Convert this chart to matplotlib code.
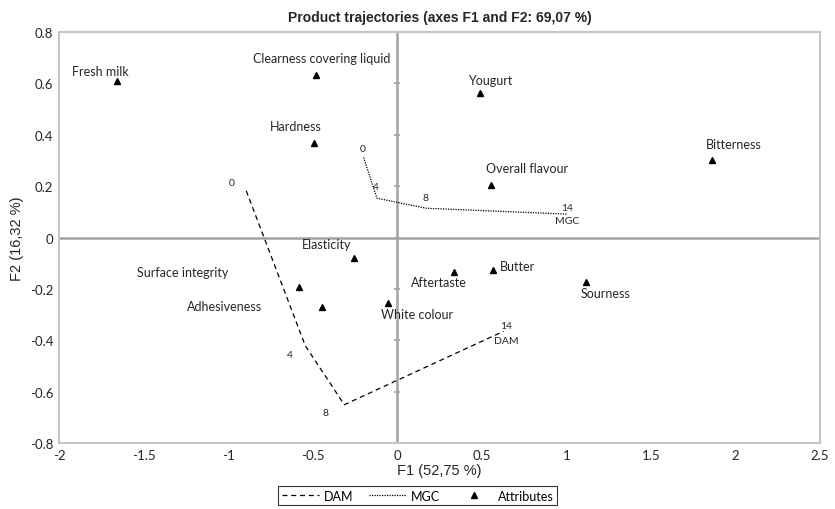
import numpy as np
import matplotlib
matplotlib.use("Agg")
from matplotlib import pyplot as plt

# attributes (F1, F2)
attributs = ["Fresh milk", "Clearness covering liquid", "Hardness", "Yougurt",
             "Overall flavour", "Bitterness", "Elasticity", "Surface integrity",
             "Adhesiveness", "White colour", "Aftertaste", "Butter", "Sourness"]
f1_attr = [-1.656, -0.479, -0.495, 0.487, 0.552, 1.861, -0.254, -0.578,
           -0.443, -0.055, 0.333, 0.564, 1.118]
f2_attr = [0.609, 0.633, 0.368, 0.561, 0.204, 0.300, -0.080, -0.191,
           -0.269, -0.256, -0.136, -0.127, -0.172]
# label positions of the attributes
lab_x = [-1.757, -0.445, -0.603, 0.550, 0.767, 1.989, -0.420, -1.270,
         -1.023, 0.115, 0.248, 0.605, 1.230]
lab_y = [0.649, 0.699, 0.435, 0.613, 0.271, 0.364, -0.025, -0.136,
         -0.265, -0.298, -0.172, -0.110, -0.216]
lab_ha = ["center"] * 11 + ["left", "center"]

# trajectories (days 0, 4, 8, 14)
jours = ["0", "4", "8", "14"]
dam_f1 = [-0.893, -0.544, -0.313, 0.629]
dam_f2 = [0.182, -0.421, -0.651, -0.365]
mgc_f1 = [-0.199, -0.120, 0.171, 1.003]
mgc_f2 = [0.312, 0.153, 0.114, 0.091]
dam_lab_x = [-0.977, -0.637, -0.426, 0.645]
dam_lab_y = [0.215, -0.457, -0.683, -0.343]
mgc_lab_x = [-0.205, -0.124, 0.166, 1.003]
mgc_lab_y = [0.345, 0.199, 0.154, 0.117]

xticks = [-2, -1.5, -1, -0.5, 0, 0.5, 1, 1.5, 2, 2.5]
yticks = [-0.8, -0.6, -0.4, -0.2, 0, 0.2, 0.4, 0.6, 0.8]

plt.rcParams['font.family'] = ['Liberation Sans', 'DejaVu Sans']
fnt_lab = ['Lato', 'DejaVu Sans']
txt = "#262626"

fig = plt.figure(figsize=(8.35, 5.1), dpi=100)
ax = fig.add_axes([0.0707, 0.1294, 0.9113, 0.8059])

gris = "#c6c6c6"
gris_fonce = "#a2a2a2"
ax.axvline(0, color=gris_fonce, lw=1.8, zorder=1)
ax.axhline(0, color=gris_fonce, lw=1.8, zorder=1)
ax.plot(np.zeros(len(yticks)), yticks, ls="none", marker="_", ms=5,
        mew=1.2, color=gris_fonce, zorder=1)

l1, = ax.plot(dam_f1, dam_f2, ls=(0, (4, 3)), color="black", lw=0.9, label="DAM")
l2, = ax.plot(mgc_f1, mgc_f2, ls=(0, (1, 1)), color="black", lw=0.9, label="MGC")
l3, = ax.plot(f1_attr, f2_attr, ls="none", marker="^", ms=5, color="black",
              label="Attributes")

for i in range(len(attributs)):
    ax.text(lab_x[i], lab_y[i], attributs[i], ha=lab_ha[i], va="center",
            fontsize=9, family=fnt_lab, color=txt)
for i in range(len(jours)):
    ax.text(dam_lab_x[i], dam_lab_y[i], jours[i], ha="center", va="center",
            fontsize=7.5, family=fnt_lab, color=txt)
    ax.text(mgc_lab_x[i], mgc_lab_y[i], jours[i], ha="center", va="center",
            fontsize=7.5, family=fnt_lab, color=txt)
ax.text(0.645, -0.40, "DAM", ha="center", va="center", fontsize=7.5,
        family=fnt_lab, color=txt)
ax.text(1.003, 0.065, "MGC", ha="center", va="center", fontsize=7.5,
        family=fnt_lab, color=txt)

ax.set_xlim(-2, 2.5)
ax.set_ylim(-0.8, 0.8)
ax.set_xticks(xticks)
ax.set_yticks(yticks)
ax.set_xticklabels([("%g" % v) for v in xticks], fontsize=9.5, family=fnt_lab)
ax.set_yticklabels([("%g" % v) for v in yticks], fontsize=9.5, family=fnt_lab)
ax.tick_params(length=0, pad=4, colors=txt)
for s in ax.spines.values():
    s.set_color(gris)
    s.set_linewidth(1.5)

ax.set_xlabel("F1 (52,75 %)", fontsize=10.5, labelpad=2, color=txt)
ax.set_ylabel("F2 (16,32 %)", fontsize=10.5, labelpad=4, color=txt)
ax.set_title("Product trajectories (axes F1 and F2: 69,07 %)", fontsize=10,
             fontweight="bold", pad=8, color=txt)

leg = fig.legend(handles=[l1, l2, l3], loc="lower center",
                 bbox_to_anchor=(0.5, -0.005), ncol=3,
                 frameon=True, fancybox=False, edgecolor="black",
                 handlelength=3, columnspacing=1.2, handletextpad=0.4,
                 borderpad=0.3, prop={'family': fnt_lab, 'size': 9})
leg.get_frame().set_linewidth(0.8)

fig.savefig("out.png", dpi=100)
